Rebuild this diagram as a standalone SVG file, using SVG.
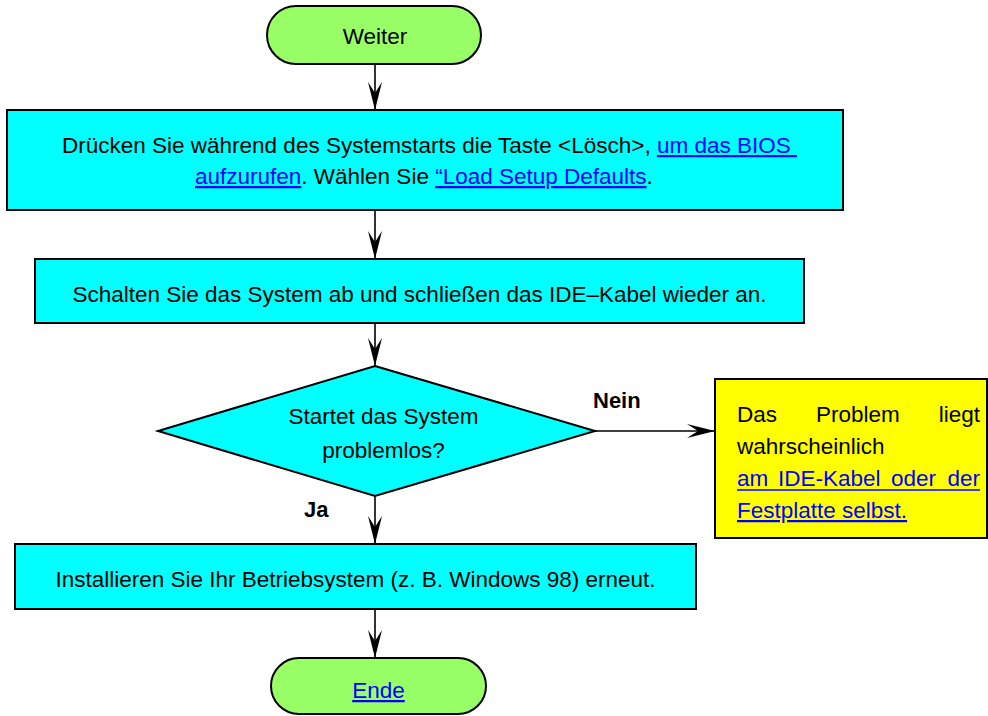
<svg xmlns="http://www.w3.org/2000/svg" width="988" height="716" viewBox="0 0 988 716">
<style>
text{font-family:"Liberation Sans",Arial,sans-serif;font-size:22.5px;fill:#000}
.term{fill:#99ff66;stroke:#000;stroke-width:2}
.proc{fill:#00ffff;stroke:#000;stroke-width:2}
.note{fill:#ffff00;stroke:#000;stroke-width:2}
.link{fill:#0000ff}
.ul{stroke:#0000ff;stroke-width:1.6}
.lbl{font-weight:bold;font-size:22px}
.conn{stroke:#000;stroke-width:1.6;fill:none;marker-end:url(#arr)}
</style>
<defs>
<marker id="arr" viewBox="0 0 28 14" refX="28" refY="7" markerWidth="28" markerHeight="14" markerUnits="userSpaceOnUse" orient="auto">
<path d="M0,0 L28,7 L0,14 L11,7 Z" fill="#000"/>
</marker>
</defs>
<rect width="988" height="716" fill="#fff"/>
<g id="connectors">
<line class="conn" x1="375" y1="64" x2="375" y2="110"/>
<line class="conn" x1="375" y1="210" x2="375" y2="259"/>
<line class="conn" x1="375" y1="323" x2="375" y2="366"/>
<line class="conn" x1="375" y1="496" x2="375" y2="544"/>
<line class="conn" x1="375" y1="609" x2="375" y2="658"/>
<line class="conn" x1="595" y1="431" x2="715" y2="431"/>
<text class="lbl" x="593" y="408">Nein</text>
<text class="lbl" x="304" y="517">Ja</text>
</g>
<g id="start">
<rect class="term" x="267" y="6" width="214" height="58" rx="29"/>
<text x="375" y="44" text-anchor="middle">Weiter</text>
</g>
<g id="step1">
<rect class="proc" x="7" y="110" width="836" height="100"/>
<text x="62" y="153" style="white-space:pre">Drücken Sie während des Systemstarts die Taste &lt;Lösch&gt;, <tspan class="link" text-decoration="underline">um das BIOS </tspan></text>
<text x="195" y="184" style="white-space:pre"><tspan class="link" text-decoration="underline">aufzurufen</tspan>. Wählen Sie <tspan class="link" text-decoration="underline">“Load Setup Defaults</tspan>.</text>
</g>
<g id="step2">
<rect class="proc" x="35" y="259" width="769" height="64"/>
<text x="419.5" y="302" text-anchor="middle">Schalten Sie das System ab und schließen das IDE–Kabel wieder an.</text>
</g>
<g id="decision">
<polygon class="proc" points="375,366 595,431 375,496 158,431"/>
<text x="383.5" y="424" text-anchor="middle">Startet das System</text>
<text x="383.5" y="458" text-anchor="middle">problemlos?</text>
</g>
<g id="note">
<rect class="note" x="715" y="379" width="272" height="159"/>
<text x="737" y="422">Das</text>
<text x="816" y="422">Problem</text>
<text x="980" y="422" text-anchor="end">liegt</text>
<text x="737" y="454">wahrscheinlich</text>
<text class="link" x="737" y="486">am</text>
<text class="link" x="778" y="486">IDE-Kabel</text>
<text class="link" x="891" y="486">oder</text>
<text class="link" x="980" y="486" text-anchor="end">der</text>
<line class="ul" x1="737" y1="490" x2="980" y2="490"/>
<text class="link" x="737" y="518" text-decoration="underline">Festplatte selbst.</text>
</g>
<g id="step3">
<rect class="proc" x="15" y="544" width="681" height="65"/>
<text x="355.5" y="587" text-anchor="middle">Installieren Sie Ihr Betriebsystem (z. B. Windows 98) erneut.</text>
</g>
<g id="end">
<rect class="term" x="271" y="658" width="215" height="56" rx="28"/>
<text class="link" x="378.5" y="698" text-anchor="middle" text-decoration="underline">Ende</text>
</g>
</svg>
